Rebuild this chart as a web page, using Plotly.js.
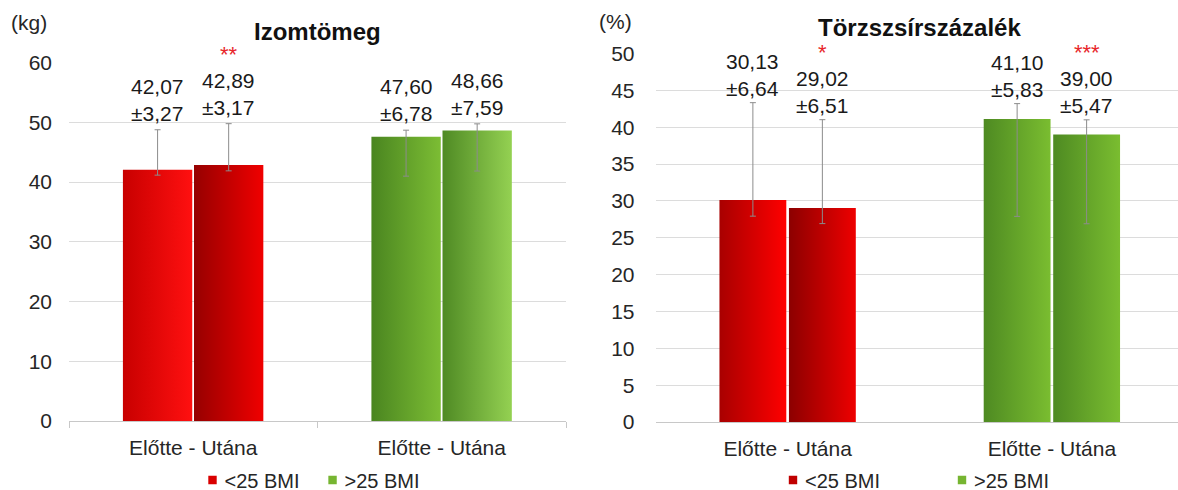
<!DOCTYPE html>
<html>
<head>
<meta charset="utf-8">
<script src="https://cdn.plot.ly/plotly-3.0.1.min.js"></script>
<style>
html, body { margin: 0; padding: 0; background: #fff; overflow: hidden; }
#chart { width: 1184px; height: 510px; }
</style>
</head>
<body>
<div id="chart"></div>
<script>
// ---------- data ----------
const categories = ['Előtte - Utána', 'Előtte - Utána'];
const groups = ['<25 BMI', '>25 BMI'];

// Izomtömeg (kg): index 0 = <25 BMI, index 1 = >25 BMI
const muscleBefore = [42.07, 47.60];
const muscleAfter = [42.89, 48.66];
const muscleSdBefore = [3.27, 6.78];
const muscleSdAfter = [3.17, 7.59];
const muscleErrPlusBefore = [6.7, 1.1];
const muscleErrMinusBefore = [0.9, 6.6];
const muscleErrPlusAfter = [6.9, 1.1];
const muscleErrMinusAfter = [1.0, 6.8];
const muscleStarsBefore = ['', ''];
const muscleStarsAfter = ['**', ''];

// Törzszsírszázalék (%)
const fatBefore = [30.13, 41.10];
const fatAfter = [29.02, 39.00];
const fatSdBefore = [6.64, 5.83];
const fatSdAfter = [6.51, 5.47];
const fatErrPlusBefore = [13.2, 2.1];
const fatErrMinusBefore = [2.2, 13.2];
const fatErrPlusAfter = [12.0, 2.0];
const fatErrMinusAfter = [2.1, 12.1];
const fatStarsBefore = ['', ''];
const fatStarsAfter = ['*', '***'];

// ---------- styling ----------
const FONT = 'Liberation Sans, Arial, sans-serif';
const legendColors = [['#d90000', '#76b531'], ['#c00000', '#76b531']];
const gradients = [
  [[['#c80000', '#ff1010'], ['#960000', '#f00000']], [['#4a8520', '#7cbd34'], ['#4f8a24', '#94d152']]],
  [[['#a80000', '#ff0000'], ['#8c0000', '#ee0000']], [['#4e8a22', '#7abd30'], ['#4e8a22', '#7abd30']]]
];

const panels = [
  { xa: 'x', ya: 'y', legend: 'legend', before: muscleBefore, after: muscleAfter,
    sdB: muscleSdBefore, sdA: muscleSdAfter,
    epB: muscleErrPlusBefore, emB: muscleErrMinusBefore, epA: muscleErrPlusAfter, emA: muscleErrMinusAfter,
    stB: muscleStarsBefore, stA: muscleStarsAfter,
    width: 0.279, offPre: -0.283, offPost: 0.003, yshift: 4 },
  { xa: 'x2', ya: 'y2', legend: 'legend2', before: fatBefore, after: fatAfter,
    sdB: fatSdBefore, sdA: fatSdAfter,
    epB: fatErrPlusBefore, emB: fatErrMinusBefore, epA: fatErrPlusAfter, emA: fatErrMinusAfter,
    stB: fatStarsBefore, stA: fatStarsAfter,
    width: 0.253, offPre: -0.258, offPost: 0.005, yshift: 2 }
];

const fmt = v => v.toFixed(2).replace('.', ',');
const LABEL_BOX = 52;   // height of a two-line value label, px

const traces = [];
const annotations = [];
const gradForTrace = [];

panels.forEach((p, pi) => {
  for (let g = 0; g < groups.length; g++) {
    for (let t = 0; t < 2; t++) {
      const val = t === 0 ? p.before[g] : p.after[g];
      const sd = t === 0 ? p.sdB[g] : p.sdA[g];
      const ep = t === 0 ? p.epB[g] : p.epA[g];
      const em = t === 0 ? p.emB[g] : p.emA[g];
      const star = t === 0 ? p.stB[g] : p.stA[g];
      const off = t === 0 ? p.offPre : p.offPost;
      traces.push({
        type: 'bar',
        x: [g], y: [val],
        name: groups[g],
        legendgroup: 'p' + pi + 'g' + g,
        showlegend: t === 0,
        legend: p.legend,
        xaxis: p.xa, yaxis: p.ya,
        width: [p.width], offset: [off],
        marker: { color: legendColors[pi][g], line: { width: 0 } },
        error_y: { type: 'data', symmetric: false, array: [ep], arrayminus: [em],
                   color: '#8c8c8c', thickness: 1, width: 3 },
        hoverinfo: 'skip'
      });
      gradForTrace.push(gradients[pi][g][t]);
      const cx = g + off + p.width / 2;
      annotations.push({
        xref: p.xa, yref: p.ya,
        x: cx, y: val + ep,
        text: fmt(val) + '<br>±' + fmt(sd), showarrow: false,
        xanchor: 'center', yanchor: 'bottom', yshift: p.yshift, borderpad: 0,
        font: { family: FONT, size: 21, color: '#1a1a1a' }
      });
      if (star) {
        annotations.push({
          xref: p.xa, yref: p.ya,
          x: cx, y: val + ep,
          text: star, showarrow: false,
          xanchor: 'center', yanchor: 'bottom', yshift: p.yshift + LABEL_BOX, borderpad: 0,
          font: { family: FONT, size: 22, color: '#e8262b' }
        });
      }
    }
  }
});

const W = 1184, H = 510;   // a little taller than the 490px viewport so the legend never pushes the margins
annotations.push(
  { xref: 'paper', yref: 'paper', x: 317 / W, y: (H - 31) / H, xanchor: 'center', yanchor: 'middle',
    text: '<b>Izomtömeg</b>', showarrow: false, borderpad: 0, font: { family: FONT, size: 24, color: '#111' } },
  { xref: 'paper', yref: 'paper', x: 919 / W, y: (H - 27) / H, xanchor: 'center', yanchor: 'middle',
    text: '<b>Törzszsírszázalék</b>', showarrow: false, borderpad: 0, font: { family: FONT, size: 24, color: '#111' } },
  { xref: 'paper', yref: 'paper', x: 9 / W, y: (H - 23) / H, xanchor: 'left', yanchor: 'middle',
    text: '(kg)', showarrow: false, font: { family: FONT, size: 21, color: '#262626' } },
  { xref: 'paper', yref: 'paper', x: 597 / W, y: (H - 22) / H, xanchor: 'left', yanchor: 'middle',
    text: '(%)', showarrow: false, font: { family: FONT, size: 21, color: '#262626' } }
);

const tickFont = { family: FONT, size: 21, color: '#262626' };
const baseX = {
  range: [-0.5, 1.5], tickmode: 'array', tickvals: [0, 1], ticktext: categories,
  showgrid: false, zeroline: false, showline: true, linecolor: '#c8c8c8', linewidth: 1,
  ticks: '', tickfont: tickFont, ticklabelstandoff: 8, fixedrange: true
};
const baseY = {
  showgrid: true, gridcolor: '#dcdcdc', gridwidth: 1, zeroline: false, showline: false,
  ticks: '', tickfont: tickFont, tickmode: 'linear', tick0: 0, fixedrange: true
};

const layout = {
  width: W, height: H,
  margin: { l: 0, r: 0, t: 0, b: 0 },
  paper_bgcolor: '#ffffff', plot_bgcolor: '#ffffff',
  barmode: 'overlay',
  font: { family: FONT, color: '#262626' },
  xaxis: Object.assign({}, baseX, { domain: [69 / W, 566 / W], anchor: 'y',
    minor: { tickmode: 'array', tickvals: [-0.5, 0.5, 1.5], ticks: 'outside', ticklen: 6,
             tickcolor: '#c8c8c8', tickwidth: 1, showgrid: false } }),
  yaxis: Object.assign({}, baseY, { domain: [(H - 421) / H, (H - 62.7) / H], anchor: 'x',
    range: [0, 60], dtick: 10, ticklabelstandoff: 16 }),
  xaxis2: Object.assign({}, baseX, { domain: [655.5 / W, 1], anchor: 'y2' }),
  yaxis2: Object.assign({}, baseY, { domain: [(H - 422) / H, (H - 53.5) / H], anchor: 'x2',
    range: [0, 50], dtick: 5, ticklabelstandoff: 20 }),
  legend: { orientation: 'h', x: 305 / W, xanchor: 'center', y: (H - 480) / H, yanchor: 'middle',
    font: { family: FONT, size: 20, color: '#262626' }, bgcolor: 'rgba(0,0,0,0)' },
  legend2: { orientation: 'h', x: 934 / W, xanchor: 'center', y: (H - 480) / H, yanchor: 'middle',
    font: { family: FONT, size: 20, color: '#262626' }, bgcolor: 'rgba(0,0,0,0)', entrywidth: 124 },
  annotations: annotations,
  showlegend: true
};

Plotly.newPlot('chart', traces, layout, { displayModeBar: false, staticPlot: true }).then(gd => {
  // horizontal gradient fill for the bars (Excel-like shading)
  const svg = gd.querySelector('.main-svg');
  const NS = 'http://www.w3.org/2000/svg';
  let defs = svg.querySelector('defs');
  if (!defs) { defs = document.createElementNS(NS, 'defs'); svg.insertBefore(defs, svg.firstChild); }
  gradForTrace.forEach((stops, i) => {
    const lg = document.createElementNS(NS, 'linearGradient');
    lg.setAttribute('id', 'barGrad' + i);
    lg.setAttribute('x1', '0'); lg.setAttribute('y1', '0');
    lg.setAttribute('x2', '1'); lg.setAttribute('y2', '0');
    [[0, stops[0]], [1, stops[1]]].forEach(([o, c]) => {
      const s = document.createElementNS(NS, 'stop');
      s.setAttribute('offset', o); s.setAttribute('stop-color', c);
      lg.appendChild(s);
    });
    defs.appendChild(lg);
  });
  gd.querySelectorAll('.barlayer .trace').forEach(tr => {
    const cd = tr.__data__;
    if (!cd || !cd[0] || !cd[0].trace) return;
    const idx = cd[0].trace.index;
    tr.querySelectorAll('path').forEach(pth => { pth.style.fill = 'url(#barGrad' + idx + ')'; });
  });
  // smaller legend squares placed closer to their text, like the original
  gd.querySelectorAll('.legendpoints path').forEach(pth => {
    pth.setAttribute('transform', 'translate(28,0) scale(0.7)');
  });
});
</script>
</body>
</html>
